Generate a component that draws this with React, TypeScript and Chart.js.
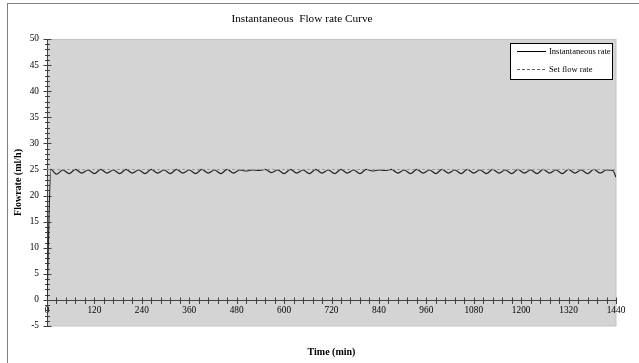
import React, { useEffect, useRef } from 'react';
import { Chart, registerables } from 'chart.js';

Chart.register(...registerables);

// ---------------- data ----------------
const TITLE = 'Instantaneous  Flow rate Curve';
const X_TITLE = 'Time (min)';
const Y_TITLE = 'Flowrate (ml/h)';
const SERIES_LABELS = ['Instantaneous rate', 'Set flow rate'];

const TIME_MIN = [
  0, 10, 24, 40, 56, 72, 88, 104, 120, 136, 152, 168, 184, 200, 216, 232, 248, 264, 280, 296,
  312, 328, 344, 360, 376, 392, 408, 424, 440, 456, 472, 488, 504, 520, 536, 552, 568, 584, 600,
  616, 632, 648, 664, 680, 696, 712, 728, 744, 760, 776, 792, 808, 824, 840, 856, 872, 888, 904,
  920, 936, 952, 968, 984, 1000, 1016, 1032, 1048, 1064, 1080, 1096, 1112, 1128, 1144, 1160,
  1176, 1192, 1208, 1224, 1240, 1256, 1272, 1288, 1304, 1320, 1336, 1352, 1368, 1384, 1400,
  1416, 1432, 1440,
];

const INSTANT_RATE = [
  0, 25,
  24.1, 24.9, 24.2, 25.0, 24.3, 24.9, 24.2, 25.0, 24.3, 24.9,
  24.2, 25.0, 24.3, 24.9, 24.2, 25.0, 24.3, 24.9, 24.2, 25.0,
  24.3, 24.9, 24.2, 25.0, 24.3, 24.9, 24.2, 25.0, 24.3, 24.9,
  24.7, 24.9, 24.8, 25.0, 24.4, 24.9, 24.2, 25.0, 24.3, 24.9,
  24.2, 25.0, 24.3, 24.9, 24.2, 25.0, 24.3, 24.9, 24.2, 25.0,
  24.7, 24.9, 24.8, 25.0, 24.3, 24.9, 24.2, 25.0, 24.3, 24.9,
  24.2, 25.0, 24.3, 24.9, 24.2, 25.0, 24.3, 24.9, 24.2, 25.0,
  24.3, 24.9, 24.2, 25.0, 24.3, 24.9, 24.2, 25.0, 24.3, 24.9,
  24.2, 25.0, 24.3, 24.9, 24.2, 25.0, 24.3, 24.9, 24.8,
  23.5,
];

const SET_TIME_MIN = [0, 1440];
const SET_RATE = [25, 25];

const X_MIN = 0;
const X_MAX = 1440;
const X_MAJOR = 120;
const X_MINOR = 24;
const Y_MIN = -5;
const Y_MAX = 50;
const Y_MAJOR = 5;
const Y_MINOR = 1;

const FONT = "'Liberation Serif', 'Times New Roman', serif";

// ---------------- plugins ----------------
const decorPlugin = {
  id: 'decor',
  beforeDraw(chart: any) {
    const { ctx, chartArea: a } = chart;
    ctx.save();
    ctx.fillStyle = '#ffffff';
    ctx.fillRect(0, 0, chart.width, chart.height);
    // plot background
    ctx.fillStyle = '#d4d4d4';
    ctx.fillRect(a.left, a.top, a.right - a.left, a.bottom - a.top);
    ctx.strokeStyle = '#c2c2c2';
    ctx.lineWidth = 1;
    ctx.strokeRect(a.left + 0.5, a.top + 0.5, a.right - a.left - 0.5, a.bottom - a.top - 0.5);
    // outer frame (partially visible)
    ctx.strokeStyle = '#808080';
    ctx.strokeRect(7.5, 3.5, chart.width + 20, chart.height + 20);
    // title
    ctx.fillStyle = '#000';
    ctx.font = `11.3px ${FONT}`;
    ctx.textAlign = 'center';
    ctx.textBaseline = 'middle';
    ctx.fillText(TITLE, 302, 19);
    ctx.restore();
  },
  beforeDatasetsDraw(chart: any) {
    const { ctx } = chart;
    const xs = chart.scales.x;
    const ys = chart.scales.y;
    const x0 = Math.round(xs.getPixelForValue(X_MIN)) + 0.5;
    const y0 = Math.round(ys.getPixelForValue(0)) + 0.5;
    ctx.save();
    ctx.strokeStyle = '#404040';
    ctx.lineWidth = 1;
    ctx.beginPath();
    // y axis line
    ctx.moveTo(x0, Math.round(ys.getPixelForValue(Y_MAX)));
    ctx.lineTo(x0, Math.round(ys.getPixelForValue(Y_MIN)) + 1);
    // x axis line
    ctx.moveTo(Math.round(xs.getPixelForValue(X_MIN)), y0);
    ctx.lineTo(Math.round(xs.getPixelForValue(X_MAX)) + 1, y0);
    // y ticks
    for (let v = Y_MIN; v <= Y_MAX; v += Y_MINOR) {
      const py = Math.round(ys.getPixelForValue(v)) + 0.5;
      const major = (v - Y_MIN) % Y_MAJOR === 0;
      const l = major ? 4 : 2.5;
      ctx.moveTo(x0 - l, py);
      ctx.lineTo(x0 + l, py);
    }
    // x ticks
    for (let v = X_MIN; v <= X_MAX; v += X_MINOR) {
      const px = Math.round(xs.getPixelForValue(v)) + 0.5;
      ctx.moveTo(px, y0 - 3);
      ctx.lineTo(px, y0 + 3.5);
    }
    ctx.stroke();
    ctx.restore();
  },
  afterDraw(chart: any) {
    const { ctx, chartArea: a } = chart;
    const w = 102;
    const h = 36;
    const left = a.right - 4 - w;
    const top = a.top + 4;
    ctx.save();
    ctx.fillStyle = '#ffffff';
    ctx.fillRect(left, top, w, h);
    ctx.strokeStyle = '#000';
    ctx.lineWidth = 1;
    ctx.strokeRect(left + 0.5, top + 0.5, w, h);
    ctx.font = `8.5px ${FONT}`;
    ctx.textAlign = 'left';
    ctx.textBaseline = 'middle';
    chart.data.datasets.forEach((ds: any, i: number) => {
      const y = Math.round(top + 8 + i * 18) + 0.5;
      ctx.strokeStyle = i === 0 ? '#000' : '#606060';
      ctx.lineWidth = 1;
      ctx.setLineDash(ds.borderDash || []);
      ctx.beginPath();
      ctx.moveTo(left + 7, y);
      ctx.lineTo(left + 36, y);
      ctx.stroke();
      ctx.setLineDash([]);
      ctx.fillStyle = '#000';
      ctx.fillText(ds.label, left + 39, y);
    });
    ctx.restore();
  },
};

export default function App() {
  const ref = useRef<HTMLCanvasElement | null>(null);

  useEffect(() => {
    if (!ref.current) return;
    const chart = new Chart(ref.current, {
      type: 'line',
      data: {
        datasets: [
          {
            label: SERIES_LABELS[0],
            data: TIME_MIN.map((t, i) => ({ x: t, y: INSTANT_RATE[i] })),
            borderColor: '#262626',
            borderWidth: 1.2,
            pointRadius: 0,
            cubicInterpolationMode: 'monotone',
            fill: false,
            order: 1,
          },
          {
            label: SERIES_LABELS[1],
            data: SET_TIME_MIN.map((t, i) => ({ x: t, y: SET_RATE[i] })),
            borderColor: '#9a9a9a',
            borderWidth: 1,
            borderDash: [3, 2],
            pointRadius: 0,
            fill: false,
            order: 0,
          },
        ],
      },
      options: {
        responsive: false,
        animation: false,
        layout: { padding: { top: 39, right: 23, bottom: 0, left: 0 } },
        font: { family: FONT },
        scales: {
          x: {
            type: 'linear',
            position: { y: 0 } as any,
            min: X_MIN,
            max: X_MAX,
            grid: { display: false, drawTicks: false },
            border: { display: false },
            ticks: {
              stepSize: X_MAJOR,
              padding: 5,
              color: '#000',
              maxRotation: 0,
              autoSkip: false,
              font: { family: FONT, size: 9.3 },
              callback: (v: any) => String(v),
            },
          },
          y: {
            type: 'linear',
            min: Y_MIN,
            max: Y_MAX,
            afterFit: (s: any) => {
              s.width = 47;
            },
            grid: { display: false, drawTicks: false },
            border: { display: false },
            ticks: {
              stepSize: Y_MAJOR,
              padding: 8,
              color: '#000',
              font: { family: FONT, size: 9.3 },
              callback: (v: any) => String(v),
            },
            title: {
              display: true,
              text: Y_TITLE,
              color: '#000',
              font: { family: FONT, size: 10, weight: 'bold' },
              padding: { top: 12, bottom: 0 },
            },
          },
        },
        plugins: {
          legend: { display: false },
          title: { display: false },
          subtitle: {
            display: true,
            text: X_TITLE,
            position: 'bottom',
            fullSize: false,
            color: '#000',
            font: { family: FONT, size: 10, weight: 'bold' },
            padding: { top: 20, bottom: 5 },
          },
          tooltip: { enabled: false },
        },
      } as any,
      plugins: [decorPlugin],
    });
    return () => chart.destroy();
  }, []);

  return (
    <div style={{ position: 'absolute', left: 0, top: 0, width: 639, height: 363 }}>
      <canvas ref={ref} width={639} height={363} />
    </div>
  );
}
